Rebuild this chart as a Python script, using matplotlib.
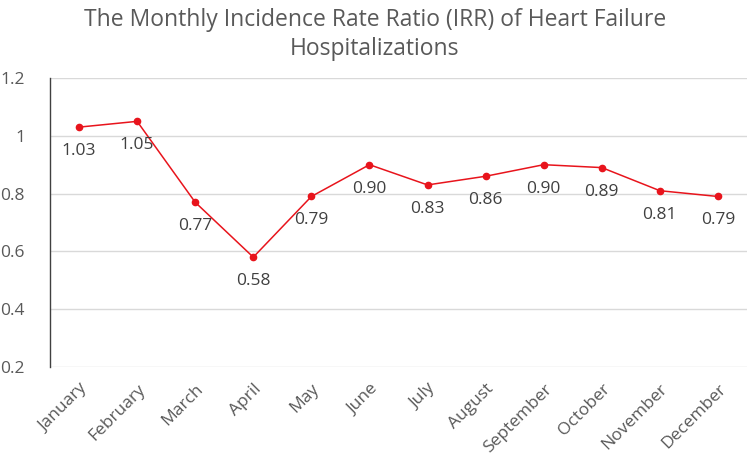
import numpy as np
import matplotlib
matplotlib.use("Agg")
import matplotlib.pyplot as plt

months = ["January", "February", "March", "April", "May", "June",
          "July", "August", "September", "October", "November", "December"]
irr = [1.03, 1.05, 0.77, 0.58, 0.79, 0.90, 0.83, 0.86, 0.90, 0.89, 0.81, 0.79]

plt.rcParams["font.family"] = ["Open Sans", "DejaVu Sans"]
text_col = "#595959"

fig = plt.figure(figsize=(7.5, 4.59), dpi=100)
# plot area: x 50..747 px, y 78..367 px
ax = fig.add_axes([50 / 750, 92 / 459, 697 / 750, 289 / 459])

x = np.arange(len(months))
ax.plot(x, irr, color="#e8141c", lw=1.1, marker="o", ms=4.5, zorder=3)
for xi, v in zip(x, irr):
    ax.annotate(f"{v:.2f}", (xi, v), xytext=(0, -11.5), textcoords="offset points",
                ha="center", va="top", fontsize=12.5, color="#404040")

ax.set_xlim(-0.5, len(months) - 0.5)
ax.set_ylim(0.2, 1.2)
ax.set_yticks([0.2, 0.4, 0.6, 0.8, 1.0, 1.2])
ax.set_yticklabels(["0.2", "0.4", "0.6", "0.8", "1", "1.2"])
ax.set_xticks(x)
ax.set_xticklabels(months, rotation=45, ha="right", rotation_mode="anchor")
ax.tick_params(axis="both", length=0, labelsize=12.5, labelcolor=text_col)
ax.tick_params(axis="y", pad=18)
ax.tick_params(axis="x", pad=10)
ax.grid(axis="y", color="#d9d9d9", lw=1)
ax.set_axisbelow(True)
for s in ["top", "right", "bottom"]:
    ax.spines[s].set_visible(False)
ax.spines["left"].set_color("#404040")
ax.spines["left"].set_linewidth(1)

fig.suptitle("The Monthly Incidence Rate Ratio (IRR) of Heart Failure\nHospitalizations",
             y=0.983, fontsize=16.5, color=text_col, linespacing=1.3)

plt.savefig("out.png")
